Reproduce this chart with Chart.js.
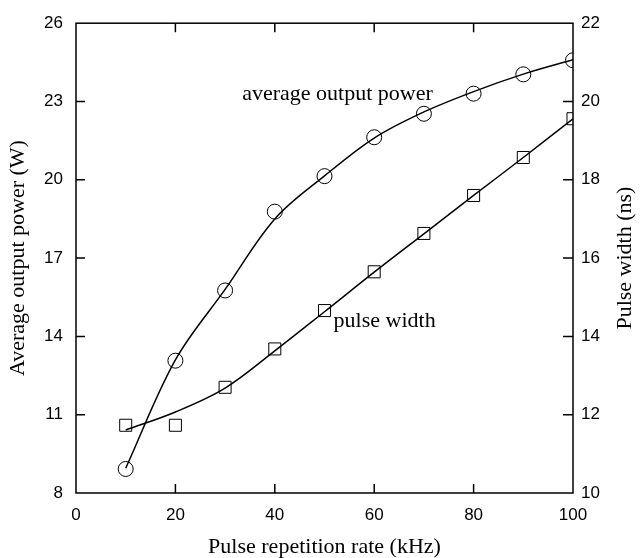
<!DOCTYPE html>
<html>
<head>
<meta charset="utf-8">
<script src="https://cdn.jsdelivr.net/npm/chart.js@4.4.0/dist/chart.umd.min.js"></script>
<style>
  body { margin: 0; background: #fff; }
  #wrap { width: 640px; height: 558px; }
</style>
</head>
<body>
<div id="wrap"><canvas id="chart" width="640" height="558"></canvas></div>
<script>
// pulse repetition rate (kHz)
const rates = [10, 20, 30, 40, 50, 60, 70, 80, 90, 100];

// average output power (W), measured points and fitted curve
const powerPoints = [8.92, 13.07, 15.76, 18.78, 20.14, 21.63, 22.53, 23.30, 24.04, 24.58];
const powerCurve = [8.95, 13.1, 15.8, 18.5, 20.15, 21.6, 22.6, 23.38, 24.05, 24.6];

// pulse width (ns), measured points and fitted curve
const widthPoints = [11.73, 11.73, 12.70, 13.68, 14.66, 15.65, 16.63, 17.60, 18.57, 19.56];
const widthCurve = [11.61, 12.07, 12.68, 13.63, 14.63, 15.64, 16.62, 17.6, 18.57, 19.56];

// axis ticks
const xTicks = [0, 20, 40, 60, 80, 100];
const powerTicks = [8, 11, 14, 17, 20, 23, 26];
const widthTicks = [10, 12, 14, 16, 18, 20, 22];

const serif = '"Liberation Serif", "Times New Roman", serif';
const sans = '"Liberation Sans", Arial, sans-serif';

function toXY(xs, ys) {
  return xs.map((x, i) => ({ x: x, y: ys[i] }));
}

// frame, inward ticks, right title and the two curve labels
const framePlugin = {
  id: 'frame',
  afterDraw(chart) {
    const ctx = chart.ctx;
    const a = chart.chartArea;
    const sx = chart.scales.x, sy = chart.scales.y, sy2 = chart.scales.y2;
    const len = 9;
    ctx.save();
    ctx.strokeStyle = '#000';
    ctx.lineWidth = 1.5;
    ctx.strokeRect(a.left, a.top, a.right - a.left, a.bottom - a.top);
    ctx.beginPath();
    xTicks.slice(1, -1).forEach(v => {
      const px = sx.getPixelForValue(v);
      ctx.moveTo(px, a.bottom); ctx.lineTo(px, a.bottom - len);
      ctx.moveTo(px, a.top); ctx.lineTo(px, a.top + len);
    });
    powerTicks.slice(1, -1).forEach(v => {
      const py = sy.getPixelForValue(v);
      ctx.moveTo(a.left, py); ctx.lineTo(a.left + len, py);
    });
    widthTicks.slice(1, -1).forEach(v => {
      const py = sy2.getPixelForValue(v);
      ctx.moveTo(a.right, py); ctx.lineTo(a.right - len - 1, py);
    });
    ctx.stroke();

    ctx.fillStyle = '#000';
    ctx.font = '22px ' + serif;
    ctx.textAlign = 'center';
    ctx.textBaseline = 'middle';
    ctx.fillText('average output power', sx.getPixelForValue(52.6), sy.getPixelForValue(23.28));
    ctx.fillText('pulse width', sx.getPixelForValue(62.1), sy.getPixelForValue(14.6));

    ctx.translate(625, (a.top + a.bottom) / 2);
    ctx.rotate(-Math.PI / 2);
    ctx.fillText('Pulse width (ns)', 0, 0);
    ctx.restore();
  }
};

new Chart(document.getElementById('chart'), {
  type: 'line',
  data: {
    datasets: [
      {
        label: 'power fit',
        data: toXY(rates, powerCurve),
        yAxisID: 'y',
        borderColor: '#000',
        borderWidth: 1.5,
        pointRadius: 0,
        tension: 0.35,
        fill: false
      },
      {
        label: 'average output power',
        data: toXY(rates, powerPoints),
        yAxisID: 'y',
        showLine: false,
        pointStyle: 'circle',
        pointRadius: 7.5,
        pointBackgroundColor: '#fff',
        pointBorderColor: '#000',
        pointBorderWidth: 1
      },
      {
        label: 'width fit',
        data: toXY(rates, widthCurve),
        yAxisID: 'y2',
        borderColor: '#000',
        borderWidth: 1.5,
        pointRadius: 0,
        tension: 0.35,
        fill: false
      },
      {
        label: 'pulse width',
        data: toXY(rates, widthPoints),
        yAxisID: 'y2',
        showLine: false,
        pointStyle: 'rect',
        pointRadius: 8.5,
        pointBackgroundColor: '#fff',
        pointBorderColor: '#000',
        pointBorderWidth: 1
      }
    ]
  },
  options: {
    responsive: false,
    animation: false,
    layout: { padding: { top: 16, left: 0, right: 0, bottom: 0 } },
    plugins: {
      legend: { display: false },
      tooltip: { enabled: false }
    },
    scales: {
      x: {
        type: 'linear',
        position: 'bottom',
        min: 0,
        max: 100,
        afterBuildTicks: s => { s.ticks = xTicks.map(v => ({ value: v })); },
        afterFit: s => { s.height = 65; },
        grid: { display: false, drawTicks: false },
        border: { display: false },
        ticks: { color: '#000', padding: 12, font: { family: sans, size: 17 } },
        title: {
          display: true,
          text: 'Pulse repetition rate (kHz)',
          color: '#000',
          padding: 0,
          font: { family: serif, size: 22, lineHeight: 1 }
        }
      },
      y: {
        type: 'linear',
        position: 'left',
        min: 8,
        max: 26,
        afterBuildTicks: s => { s.ticks = powerTicks.map(v => ({ value: v })); },
        afterFit: s => { s.width = 76; },
        grid: { display: false, drawTicks: false },
        border: { display: false },
        ticks: { color: '#000', padding: 13, font: { family: sans, size: 17 } },
        title: {
          display: true,
          text: 'Average output power (W)',
          color: '#000',
          padding: { top: 7, bottom: 0 },
          font: { family: serif, size: 22, lineHeight: 1 }
        }
      },
      y2: {
        type: 'linear',
        position: 'right',
        min: 10,
        max: 22,
        afterBuildTicks: s => { s.ticks = widthTicks.map(v => ({ value: v })); },
        afterFit: s => { s.width = 67; },
        grid: { display: false, drawTicks: false },
        border: { display: false },
        ticks: { color: '#000', padding: 8, font: { family: sans, size: 17 } }
      }
    }
  },
  plugins: [framePlugin]
});
</script>
</body>
</html>
